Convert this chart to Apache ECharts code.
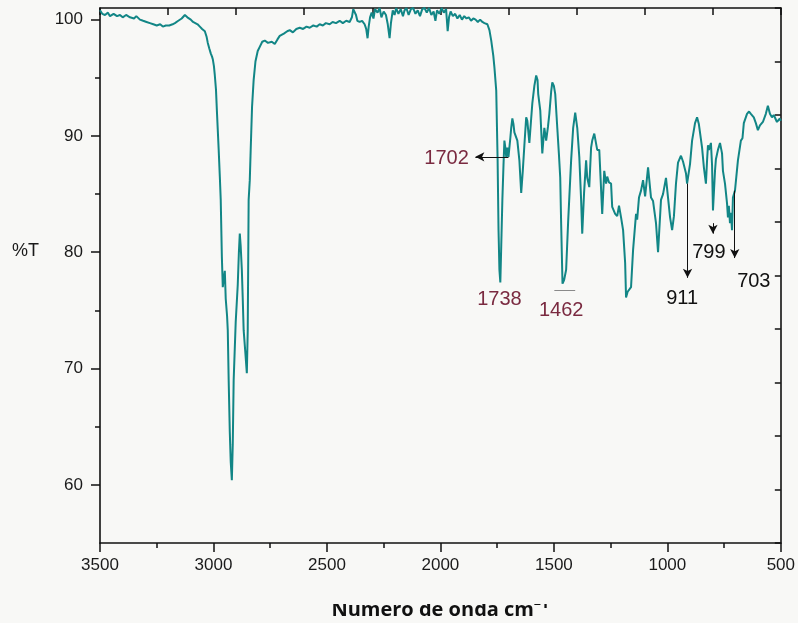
<!DOCTYPE html>
<html>
<head>
<meta charset="utf-8">
<script src="https://cdn.jsdelivr.net/npm/echarts@6/dist/echarts.min.js"></script>
<style>
  html, body { margin: 0; padding: 0; background: #f8f8f6; }
  #chart { width: 798px; height: 623px; }
</style>
</head>
<body>
<div id="chart"></div>
<script>
  // espectro IR: numero de onda (cm-1) y %T
  var wavenumber = [
    3500, 3490, 3478, 3465, 3456, 3440, 3425, 3412, 3400, 3385, 3368, 3350, 3340, 3324, 3310, 3295, 3280, 3265, 3250, 3235,
    3223, 3210, 3195, 3180, 3170, 3155, 3140, 3126, 3115, 3100, 3090, 3082, 3070, 3060, 3050, 3038, 3030, 3025, 3018, 3012,
    3006, 3003, 2998, 2994, 2989, 2985, 2981, 2977, 2972, 2968, 2963, 2959, 2956, 2950, 2946, 2940, 2937, 2933, 2928, 2924,
    2919, 2915, 2911, 2902, 2893, 2888, 2884, 2880, 2875, 2871, 2867, 2860, 2853, 2849, 2845, 2840, 2836, 2830, 2823, 2815,
    2805, 2795, 2785, 2774, 2760, 2743, 2730, 2718, 2708, 2690, 2675, 2664, 2650, 2635, 2620, 2605, 2590, 2576, 2560, 2545,
    2532, 2518, 2505, 2488, 2475, 2460, 2444, 2430, 2415, 2400, 2390, 2384, 2378, 2372, 2366, 2356, 2345, 2334, 2327, 2321,
    2316, 2310, 2303, 2295, 2288, 2277, 2268, 2260, 2250, 2240, 2232, 2224, 2218, 2210, 2202, 2195, 2185, 2175, 2165, 2158,
    2150, 2140, 2130, 2120, 2110, 2100, 2090, 2080, 2070, 2060, 2050, 2040, 2030, 2022, 2015, 2005, 1995, 1985, 1975, 1968,
    1962, 1955, 1945, 1935, 1925, 1915, 1905, 1895, 1885, 1875, 1865, 1855, 1845, 1835, 1825, 1815, 1806, 1793, 1784, 1776,
    1767, 1762, 1754, 1748, 1744, 1740, 1736, 1732, 1727, 1722, 1718, 1714, 1710, 1705, 1700, 1696, 1692, 1688, 1683, 1678,
    1674, 1668, 1661, 1652, 1644, 1637, 1630, 1622, 1617, 1608, 1600, 1595, 1586, 1578, 1572, 1569, 1560, 1551, 1542, 1534,
    1526, 1520, 1512, 1507, 1500, 1494, 1485, 1478, 1472, 1468, 1462, 1455, 1446, 1437, 1424, 1415, 1406, 1397, 1388, 1380,
    1375, 1367, 1358, 1353, 1344, 1336, 1331, 1322, 1318, 1309, 1300, 1287, 1278, 1270, 1265, 1257, 1248, 1243, 1230, 1221,
    1213, 1204, 1195, 1186, 1182, 1175, 1169, 1160, 1151, 1138, 1133, 1125, 1116, 1107, 1098, 1085, 1072, 1063, 1050, 1041,
    1028, 1019, 1006, 997, 988, 979, 971, 962, 953, 940, 931, 918, 913, 900, 891, 878, 869, 861, 847, 839,
    830, 825, 821, 817, 808, 803, 799, 790, 786, 777, 768, 759, 755, 746, 737, 733, 729, 724, 720, 715,
    711, 702, 696, 689, 676, 669, 663, 649, 640, 632, 619, 610, 601, 592, 579, 566, 557, 548, 539, 531,
    517, 504, 500
  ];
  var transmittance = [
    100.8, 100.5, 100.4, 100.6, 100.3, 100.5, 100.3, 100.4, 100.2, 100.4, 100.2, 100.1, 100.3, 100.0, 99.9, 99.8, 99.7, 99.6, 99.5, 99.6,
    99.4, 99.5, 99.5, 99.6, 99.7, 99.9, 100.1, 100.4, 100.2, 100.0, 99.8, 99.7, 99.6, 99.4, 99.2, 99.0, 98.5, 98.0, 97.5, 97.1,
    96.8, 96.6, 96.0, 95.2, 94.0, 92.2, 90.5, 88.8, 86.5, 84.5, 79.6, 77.0, 77.5, 78.4, 76.0, 74.5, 73.3, 69.0, 64.5, 62.0,
    60.4, 63.5, 69.0, 74.0, 77.2, 80.0, 81.6, 80.5, 78.5, 76.0, 73.3, 71.5, 69.6, 73.3, 84.5, 86.2, 88.8, 92.5, 94.8, 96.4,
    97.3, 97.7, 98.1, 98.2, 98.0, 98.1, 97.9, 98.3, 98.6, 98.8, 99.0, 99.1, 98.9, 99.2, 99.3, 99.2, 99.4, 99.3, 99.5, 99.4,
    99.6, 99.5, 99.7, 99.6, 99.8, 99.7, 99.9, 99.7, 99.9, 99.8, 100.2, 100.9, 101.0, 100.4, 99.9, 99.8, 99.9, 99.6, 99.2, 98.4,
    99.4, 100.2, 100.6, 100.1, 100.9, 100.6, 101.0, 100.2, 100.7, 100.4, 99.6, 98.4, 99.7, 100.8, 100.4, 101.0, 100.5, 100.9, 100.3, 100.8,
    101.0, 100.4, 100.9, 101.0, 100.5, 100.8, 100.3, 100.9, 101.0, 100.6, 101.0, 100.4, 100.7, 99.9, 100.8, 100.5, 101.0, 100.6, 100.9, 99.0,
    100.2, 100.7, 100.3, 100.5, 100.1, 100.4, 100.0, 100.3, 100.1, 100.2, 99.9, 100.1, 100.0, 99.8, 100.0, 99.8, 99.7, 99.6, 99.1, 98.2,
    96.9, 95.9, 93.9, 88.0, 82.0, 78.5, 77.4, 80.5, 84.5, 87.5, 89.6, 89.0, 88.2, 89.0, 88.2, 88.2, 89.8, 90.7, 91.5, 91.0,
    90.3, 90.4, 89.6, 87.9, 85.1, 87.0, 89.2, 91.6, 91.3, 89.4, 91.5, 92.8, 94.3, 95.2, 94.8, 93.6, 92.2, 88.5, 90.7, 89.6,
    90.8, 91.9, 93.8, 94.6, 94.3, 93.6, 90.7, 88.5, 86.4, 82.5, 77.3, 77.6, 78.5, 82.7, 87.9, 90.7, 92.0, 90.7, 88.2, 84.5,
    81.6, 85.1, 87.9, 86.4, 85.6, 89.0, 89.6, 90.2, 90.2, 88.8, 88.8, 83.3, 87.0, 85.9, 86.5, 86.0, 85.9, 83.9, 83.3, 83.1,
    84.0, 83.0, 81.9, 79.1, 76.1, 76.6, 76.7, 77.0, 80.2, 83.3, 82.8, 84.7, 85.3, 86.2, 84.8, 87.3, 84.7, 84.4, 82.5, 80.0,
    84.5, 85.0, 86.4, 84.7, 83.0, 81.9, 83.1, 85.9, 87.7, 88.3, 87.8, 86.8, 85.9, 87.6, 89.6, 91.1, 91.6, 91.0, 89.0, 87.3,
    85.9, 87.9, 89.2, 88.8, 89.4, 87.5, 83.6, 87.0, 88.0, 88.8, 89.4, 88.5, 87.0, 85.9, 84.2, 83.0, 84.0, 82.5, 83.4, 81.9,
    84.7, 85.3, 86.5, 87.9, 89.6, 89.8, 91.1, 91.9, 92.1, 91.9, 91.6, 91.1, 90.5, 90.9, 91.2, 91.9, 92.6, 91.9, 91.6, 91.8,
    91.2, 91.5, 91.3
  ];

  // etiquetas de picos: texto y posicion (cm-1, %T)
  var peakLabels = ['1702', '1738', '1462', '911', '799', '703'];
  var peakLabelWn = [1973, 1740, 1468, 935, 817, 619];
  var peakLabelT = [88.1, 75.9, 75.0, 76.0, 80.0, 77.5];
  var maroonPeaks = ['1702', '1738', '1462'];

  // flechas: desde [cm-1, %T] hasta [cm-1, %T]
  var arrowFrom = [[1700, 88.2], [911, 85.9], [799, 82.5], [703, 85.3]];
  var arrowTo = [[1846, 88.2], [911, 77.8], [799, 81.6], [703, 79.5]];
  // linea gris sobre 1462
  var underline1462 = [[1498, 76.75], [1406, 76.75]];

  var yMajor = [60, 70, 80, 90, 100];
  var yMinor = [65, 75, 85, 95];

  var spectrum = wavenumber.map(function (w, i) { return [w, transmittance[i]]; });

  var arrowLines = arrowFrom.map(function (p, i) {
    return [{ coord: p }, { coord: arrowTo[i] }];
  });
  arrowLines.push([
    { coord: underline1462[0], symbol: 'none' },
    { coord: underline1462[1], symbol: 'none', lineStyle: { color: '#8a8a8a' } }
  ]);

  var labelPoints = peakLabels.map(function (t, i) {
    return {
      name: t,
      coord: [peakLabelWn[i], peakLabelT[i]],
      label: { color: maroonPeaks.indexOf(t) >= 0 ? '#7a2a40' : '#111' }
    };
  });

  var font = 'Liberation Sans, Arial, sans-serif';
  var axisLineStyle = { color: '#111', width: 1.6 };

  var myChart = echarts.init(document.getElementById('chart'));
  var option = {
    backgroundColor: '#f8f8f6',
    animation: false,
    grid: { left: 100, right: 16, top: 8, bottom: 80 },
    xAxis: [{
      type: 'value',
      inverse: true,
      min: 500,
      max: 3500,
      interval: 500,
      axisLine: { show: true, lineStyle: axisLineStyle },
      axisTick: { show: true, inside: false, length: 9, lineStyle: { color: '#111', width: 1.5 } },
      minorTick: { show: true, splitNumber: 2, length: 5, lineStyle: { color: '#111', width: 1.5 } },
      axisLabel: {
        color: '#1a1a1a', fontSize: 17, fontFamily: font, margin: 14,
        formatter: function (v) { return String(v); }
      },
      splitLine: { show: false },
      minorSplitLine: { show: false }
    }, {
      type: 'value',
      position: 'top',
      min: 0,
      max: 10,
      interval: 1,
      axisLine: { show: true, lineStyle: axisLineStyle },
      axisTick: { show: true, inside: true, length: 7, lineStyle: { color: '#111', width: 1.5 } },
      axisLabel: { show: false },
      splitLine: { show: false }
    }],
    yAxis: [{
      type: 'value',
      position: 'left',
      min: 55,
      max: 101,
      axisLine: { show: true, lineStyle: axisLineStyle },
      axisTick: { show: true, inside: false, length: 9, customValues: yMajor, lineStyle: { color: '#111', width: 1.5 } },
      axisLabel: { color: '#1a1a1a', fontSize: 17, fontFamily: font, margin: 17, customValues: yMajor },
      splitLine: { show: false }
    }, {
      type: 'value',
      position: 'left',
      min: 55,
      max: 101,
      axisLine: { show: false },
      axisTick: { show: true, inside: false, length: 5, customValues: yMinor, lineStyle: { color: '#111', width: 1.5 } },
      axisLabel: { show: false, customValues: yMinor },
      splitLine: { show: false }
    }, {
      type: 'value',
      position: 'right',
      min: 0,
      max: 10,
      interval: 1,
      axisLine: { show: true, lineStyle: axisLineStyle },
      axisTick: { show: true, inside: true, length: 6, lineStyle: { color: '#111', width: 1.5 } },
      axisLabel: { show: false },
      splitLine: { show: false }
    }],
    graphic: [{
      type: 'text',
      left: 12,
      top: 242,
      style: { text: '%T', font: '18px ' + font, fill: '#1a1a1a' }
    }, {
      type: 'text',
      x: 440,
      y: 620,
      z: 10,
      style: {
        text: 'Numero de onda cm\u207B\u00B9',
        font: 'bold 20px "Open Sans", sans-serif',
        fill: '#111',
        textAlign: 'center',
        textVerticalAlign: 'bottom'
      }
    }, {
      type: 'rect',
      z: 20,
      shape: { x: 300, y: 585, width: 300, height: 19 },
      style: { fill: '#f8f8f6' }
    }],
    series: [{
      name: '%T',
      type: 'line',
      xAxisIndex: 0,
      yAxisIndex: 0,
      data: spectrum,
      showSymbol: false,
      smooth: false,
      clip: true,
      lineStyle: { color: '#128686', width: 2 },
      markLine: {
        silent: true,
        symbol: ['none', 'arrow'],
        symbolSize: [7, 9],
        label: { show: false },
        lineStyle: { color: '#111', width: 1, type: 'solid' },
        data: arrowLines
      },
      markPoint: {
        silent: true,
        symbol: 'circle',
        symbolSize: 0,
        label: {
          show: true,
          position: 'inside',
          formatter: '{b}',
          fontSize: 20,
          fontFamily: font
        },
        data: labelPoints
      }
    }]
  };
  myChart.setOption(option);
</script>
</body>
</html>
